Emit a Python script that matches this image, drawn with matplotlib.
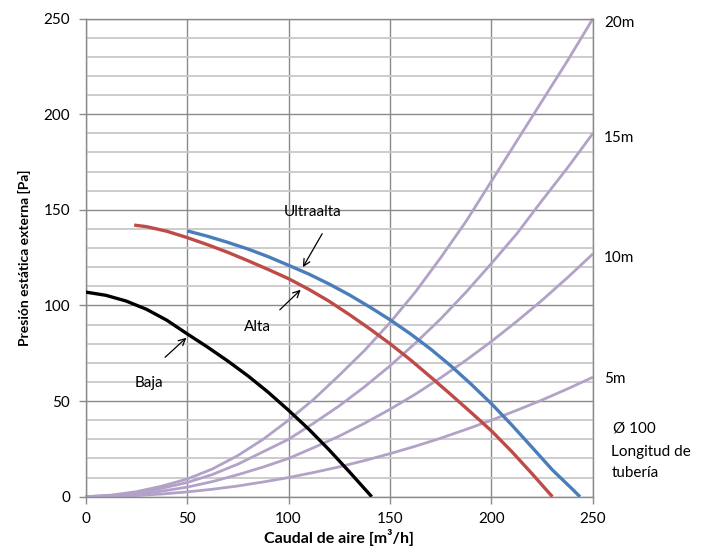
import matplotlib
matplotlib.use("Agg")
import matplotlib.pyplot as plt
from matplotlib.ticker import MultipleLocator

plt.rcParams['font.family'] = ['Lato', 'DejaVu Sans']

# Fan curves
baja_x = [0, 10, 20, 30, 40, 50, 60, 70, 80, 90, 100, 110, 120, 130, 141]
baja_y = [107, 105.3, 102.3, 98, 92.3, 85.2, 78.3, 71, 63.2, 54.6, 45.2, 35.3, 24.5, 13, 0]

alta_x = [24, 30, 40, 50, 60, 70, 80, 90, 100, 110, 120, 130, 140, 150, 160, 170, 180, 190, 200, 210, 220, 230]
alta_y = [142, 141.2, 138.8, 135.5, 131.8, 127.8, 123.4, 118.8, 114, 108.4, 102.2, 95.2, 87.8, 80,
          71.6, 62.6, 53.4, 44, 34.4, 23.6, 12, 0]

ultra_x = [50, 60, 70, 80, 90, 100, 110, 120, 130, 140, 150, 160, 170, 180, 190, 200, 210, 220, 230, 240, 243.6]
ultra_y = [139, 136.2, 133, 129.5, 125.5, 121, 116.4, 111.2, 105.5, 99.2, 92.5, 85.2, 77.2, 68.4, 58.8,
           48.6, 37.5, 25.8, 14, 3.8, 0]

# Duct resistance curves
duct_x = [0, 12.5, 25, 37.5, 50, 62.5, 75, 87.5, 100, 112.5, 125, 137.5, 150, 162.5, 175, 187.5,
          200, 212.5, 225, 237.5, 250]
duct_20 = [0, 0.8, 2.6, 5.5, 9.2, 14.5, 21.5, 30, 40, 51, 63.5, 76.5, 91, 107, 125, 144,
           165, 186, 207, 228, 250]
duct_15 = [0, 0.6, 2, 4.4, 7.4, 11.6, 17, 23.5, 30, 38.5, 47.5, 57.5, 68.4, 80.3, 93, 107,
           122, 137.5, 155, 172, 190]
duct_10 = [0, 0.4, 1.3, 2.9, 5, 7.9, 11.5, 15.5, 20, 25.7, 31.7, 38.4, 45.7, 53.6, 62.2, 71.4,
           81.2, 91.7, 102.8, 114.6, 127]
duct_5 = [0, 0.2, 0.6, 1.4, 2.5, 3.9, 5.6, 7.7, 10, 12.7, 15.6, 18.9, 22.5, 26.4, 30.6, 35.2,
          40, 45.2, 50.6, 56.4, 62.5]
duct_labels = ['20m', '15m', '10m', '5m']

x_ticks = [0, 50, 100, 150, 200, 250]
y_ticks = [0, 50, 100, 150, 200, 250]

fig = plt.figure(figsize=(7.05, 5.48), dpi=100)
ax = fig.add_axes([0.1213, 0.0936, 0.7198, 0.8726])

ax.set_xlim(0, 250)
ax.set_ylim(0, 250)
ax.set_xticks(x_ticks)
ax.set_yticks(y_ticks)
ax.yaxis.set_minor_locator(MultipleLocator(10))
ax.grid(True, which='minor', axis='y', color='#c8c8c8', linewidth=1.3, zorder=0)
ax.grid(True, which='major', axis='both', color='#8a8a8a', linewidth=1.0, zorder=0)
ax.tick_params(axis='y', which='minor', length=0)
ax.tick_params(axis='both', which='major', length=5, width=1, color='#8a8a8a',
               labelsize=11, pad=6)
for s in ax.spines.values():
    s.set_color('#8a8a8a')
    s.set_linewidth(1.0)
ax.set_axisbelow(True)

purple = '#b3a2c7'
duct_sets = [duct_20, duct_15, duct_10, duct_5]
for yv in duct_sets:
    ax.plot(duct_x, yv, color=purple, linewidth=2.0, zorder=2, clip_on=False,
            solid_capstyle='butt', solid_joinstyle='round')

for xs, ys, c in [(baja_x, baja_y, 'black'), (alta_x, alta_y, '#be4b48'),
                  (ultra_x, ultra_y, '#4a7ebb')]:
    ax.plot(xs, ys, color=c, linewidth=2.4, zorder=3, solid_capstyle='butt',
            solid_joinstyle='round')

# Curve labels with arrows
arrow = dict(arrowstyle='->', color='black', linewidth=0.9, shrinkA=0, shrinkB=0,
             mutation_scale=12)
ax.annotate('', xy=(107.1, 120), xytext=(116.6, 137.5), arrowprops=arrow, zorder=4)
ax.annotate('', xy=(106, 108.2), xytext=(95.7, 97.7), arrowprops=arrow, zorder=4)
ax.annotate('', xy=(49.7, 83.1), xytext=(39.2, 72.9), arrowprops=arrow, zorder=4)
ax.text(112, 148.8, 'Ultraalta', fontsize=11, ha='center', va='center')
ax.text(84.5, 88.6, 'Alta', fontsize=11, ha='center', va='center')
ax.text(31.2, 59.3, 'Baja', fontsize=11, ha='center', va='center')

# Right-side duct labels
label_y = [247.7, 187.5, 124.7, 61.6]
for lab, yy in zip(duct_labels, label_y):
    ax.text(255.5, yy, lab, fontsize=11, ha='left', va='center', clip_on=False)
ax.text(260, 35.8, 'Ø 100', fontsize=11, ha='left', va='center', clip_on=False)
ax.text(259, 23.6, 'Longitud de', fontsize=11, ha='left', va='center', clip_on=False)
ax.text(259, 12.3, 'tubería', fontsize=11, ha='left', va='center', clip_on=False)

ax.set_xlabel('Caudal de aire [m³/h]', fontsize=11.5, fontweight='bold', labelpad=2)
ax.set_ylabel('Presión estática externa [Pa]', fontsize=10, fontweight='bold', labelpad=9)

fig.savefig('out.png', dpi=100)
